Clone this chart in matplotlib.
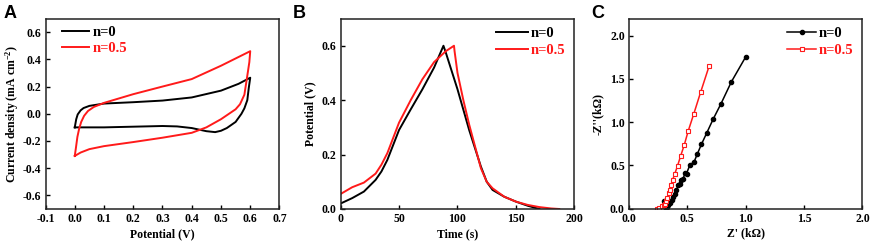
import matplotlib
matplotlib.use('Agg')
import matplotlib.pyplot as plt

plt.rcParams['font.family'] = ['Liberation Serif', 'DejaVu Serif']
plt.rcParams['font.weight'] = 'bold'
plt.rcParams['axes.labelweight'] = 'bold'
plt.rcParams['axes.unicode_minus'] = False
plt.rcParams['mathtext.fontset'] = 'custom'
plt.rcParams['mathtext.rm'] = 'Liberation Serif:bold'
plt.rcParams['mathtext.it'] = 'Liberation Serif:bold:italic'
plt.rcParams['mathtext.bf'] = 'Liberation Serif:bold'
plt.rcParams['mathtext.default'] = 'rm'

# --- panel A: cyclic voltammetry (forward then reverse sweep) ---
cv0_v = [0.0, 0.005, 0.01, 0.02, 0.03, 0.05, 0.1, 0.2, 0.3, 0.4, 0.5, 0.56, 0.6,
         0.595, 0.59, 0.58, 0.57, 0.55, 0.52, 0.5, 0.48, 0.45, 0.4, 0.35, 0.3, 0.2, 0.1, 0.0, 0.0]
cv0_j = [-0.1, -0.04, -0.005, 0.025, 0.042, 0.058, 0.075, 0.085, 0.097, 0.12, 0.17, 0.22, 0.265,
         0.19, 0.1, 0.04, 0.0, -0.06, -0.105, -0.125, -0.135, -0.128, -0.105, -0.093, -0.09, -0.095, -0.1, -0.1, -0.1]
cv5_v = [0.0, 0.004, 0.009, 0.015, 0.022, 0.032, 0.045, 0.065, 0.1, 0.2, 0.3, 0.4, 0.5, 0.6,
         0.597, 0.59, 0.58, 0.565, 0.55, 0.5, 0.45, 0.4, 0.3, 0.2, 0.1, 0.05, 0.02, 0.0]
cv5_j = [-0.31, -0.25, -0.17, -0.11, -0.06, -0.015, 0.02, 0.05, 0.08, 0.144, 0.2, 0.255, 0.353, 0.46,
         0.38, 0.28, 0.14, 0.07, 0.033, -0.04, -0.1, -0.14, -0.176, -0.208, -0.238, -0.26, -0.285, -0.31]

# --- panel B: charge/discharge ---
gcd0_t = [0, 10, 20, 30, 35, 40, 50, 60, 70, 80, 88, 90, 100, 110, 120, 125, 130, 140, 150, 160, 170]
gcd0_v = [0.02, 0.04, 0.064, 0.107, 0.138, 0.18, 0.29, 0.366, 0.44, 0.52, 0.6,
          0.575, 0.44, 0.29, 0.156, 0.1, 0.07, 0.045, 0.027, 0.012, 0.0]
gcd5_t = [0, 10, 20, 30, 35, 40, 50, 60, 70, 80, 90, 97, 97.5, 100, 105, 110, 120, 125, 130,
          140, 150, 160, 170, 180, 187]
gcd5_v = [0.055, 0.08, 0.097, 0.13, 0.163, 0.205, 0.317, 0.4, 0.477, 0.54, 0.58, 0.6, 0.58, 0.5,
          0.4, 0.31, 0.15, 0.1, 0.076, 0.045, 0.027, 0.015, 0.007, 0.002, 0.0]

# --- panel C: Nyquist ---
eis0_re = [0.30, 0.316, 0.328, 0.336, 0.35, 0.365, 0.379, 0.393, 0.407, 0.422, 0.436, 0.444,
           0.462, 0.479, 0.493, 0.521, 0.558, 0.584, 0.621, 0.664, 0.721, 0.789, 0.877, 1.0]
eis0_im = [0.09, 0.0, 0.021, 0.037, 0.067, 0.098, 0.13, 0.164, 0.214, 0.272, 0.282, 0.33,
           0.336, 0.407, 0.405, 0.503, 0.541, 0.627, 0.745, 0.869, 1.035, 1.216, 1.467, 1.757]
eis5_re = [0.24, 0.26, 0.28, 0.30, 0.308, 0.316, 0.328, 0.339, 0.35, 0.359, 0.373, 0.393,
           0.416, 0.442, 0.473, 0.507, 0.556, 0.613, 0.687]
eis5_im = [0.0, 0.01, 0.03, 0.04, 0.05, 0.085, 0.127, 0.174, 0.22, 0.27, 0.328, 0.405,
           0.494, 0.606, 0.734, 0.896, 1.1, 1.344, 1.652]

labels = ['n=0', 'n=0.5']
colors = ['black', '#ff1a1a']

fig = plt.figure(figsize=(8.72, 2.42), dpi=100)
axA = fig.add_axes([0.0522, 0.1364, 0.2683, 0.787])
axB = fig.add_axes([0.3905, 0.1364, 0.2683, 0.787])
axC = fig.add_axes([0.7213, 0.1384, 0.2678, 0.785])

for ax in (axA, axB, axC):
    for s in ax.spines.values():
        s.set_linewidth(1.1)
        s.set_color('#222222')
    ax.tick_params(direction='in', length=3, width=1, labelsize=8.5, pad=3,
                   top=False, right=False)

leg_kw = dict(frameon=False, fontsize=10.5, labelcolor='linecolor',
              handletextpad=0.2, labelspacing=0.2, borderpad=0.3)

axA.plot(cv0_v, cv0_j, color=colors[0], lw=1.4, label=labels[0])
axA.plot(cv5_v, cv5_j, color=colors[1], lw=1.4, label=labels[1])
axA.set_xlim(-0.1, 0.7)
axA.set_ylim(-0.7, 0.7)
axA.set_xticks([-0.1, 0.0, 0.1, 0.2, 0.3, 0.4, 0.5, 0.6, 0.7])
axA.set_yticks([-0.6, -0.4, -0.2, 0.0, 0.2, 0.4, 0.6])
axA.set_xlabel('Potential (V)', fontsize=8.5, labelpad=2)
axA.set_ylabel('Current density (mA cm$^{-2}$)', fontsize=8.5, labelpad=1)
axA.legend(loc='upper left', bbox_to_anchor=(0.05, 0.984), handlelength=1.9,
           borderaxespad=0.0, **leg_kw)

axB.plot(gcd0_t, gcd0_v, color=colors[0], lw=1.4, label=labels[0])
axB.plot(gcd5_t, gcd5_v, color=colors[1], lw=1.4, label=labels[1])
axB.set_xlim(0, 200)
axB.set_ylim(0, 0.7)
axB.set_xticks([0, 50, 100, 150, 200])
axB.set_yticks([0.0, 0.2, 0.4, 0.6])
axB.set_xlabel('Time (s)', fontsize=8.5, labelpad=2)
axB.set_ylabel('Potential (V)', fontsize=8.5, labelpad=4)
axB.legend(loc='upper right', handlelength=2.2, borderaxespad=0.3, **leg_kw)

axC.plot(eis0_re, eis0_im, color=colors[0], lw=1.1, marker='o', ms=3,
         label=labels[0])
axC.plot(eis5_re, eis5_im, color=colors[1], lw=1.1, marker='s', ms=3.5,
         markerfacecolor='white', markeredgewidth=0.8, label=labels[1])
axC.set_xlim(0, 2.0)
axC.set_ylim(0, 2.2)
axC.set_xticks([0.0, 0.5, 1.0, 1.5, 2.0])
axC.set_yticks([0.0, 0.5, 1.0, 1.5, 2.0])
axC.set_xlabel("Z' (k\u03a9)", fontsize=8.5, labelpad=2)
axC.set_ylabel("-Z''(k\u03a9)", fontsize=8.5, labelpad=4)
axC.legend(loc='upper right', handlelength=2.0, borderaxespad=0.3, **leg_kw)

for letter, x in (('A', 4), ('B', 293), ('C', 591)):
    fig.text(x / 872, (242 - 18) / 242, letter, fontsize=13, fontweight='bold',
             family=['Liberation Sans', 'DejaVu Sans'], va='baseline')

fig.savefig('out.png', dpi=100)
